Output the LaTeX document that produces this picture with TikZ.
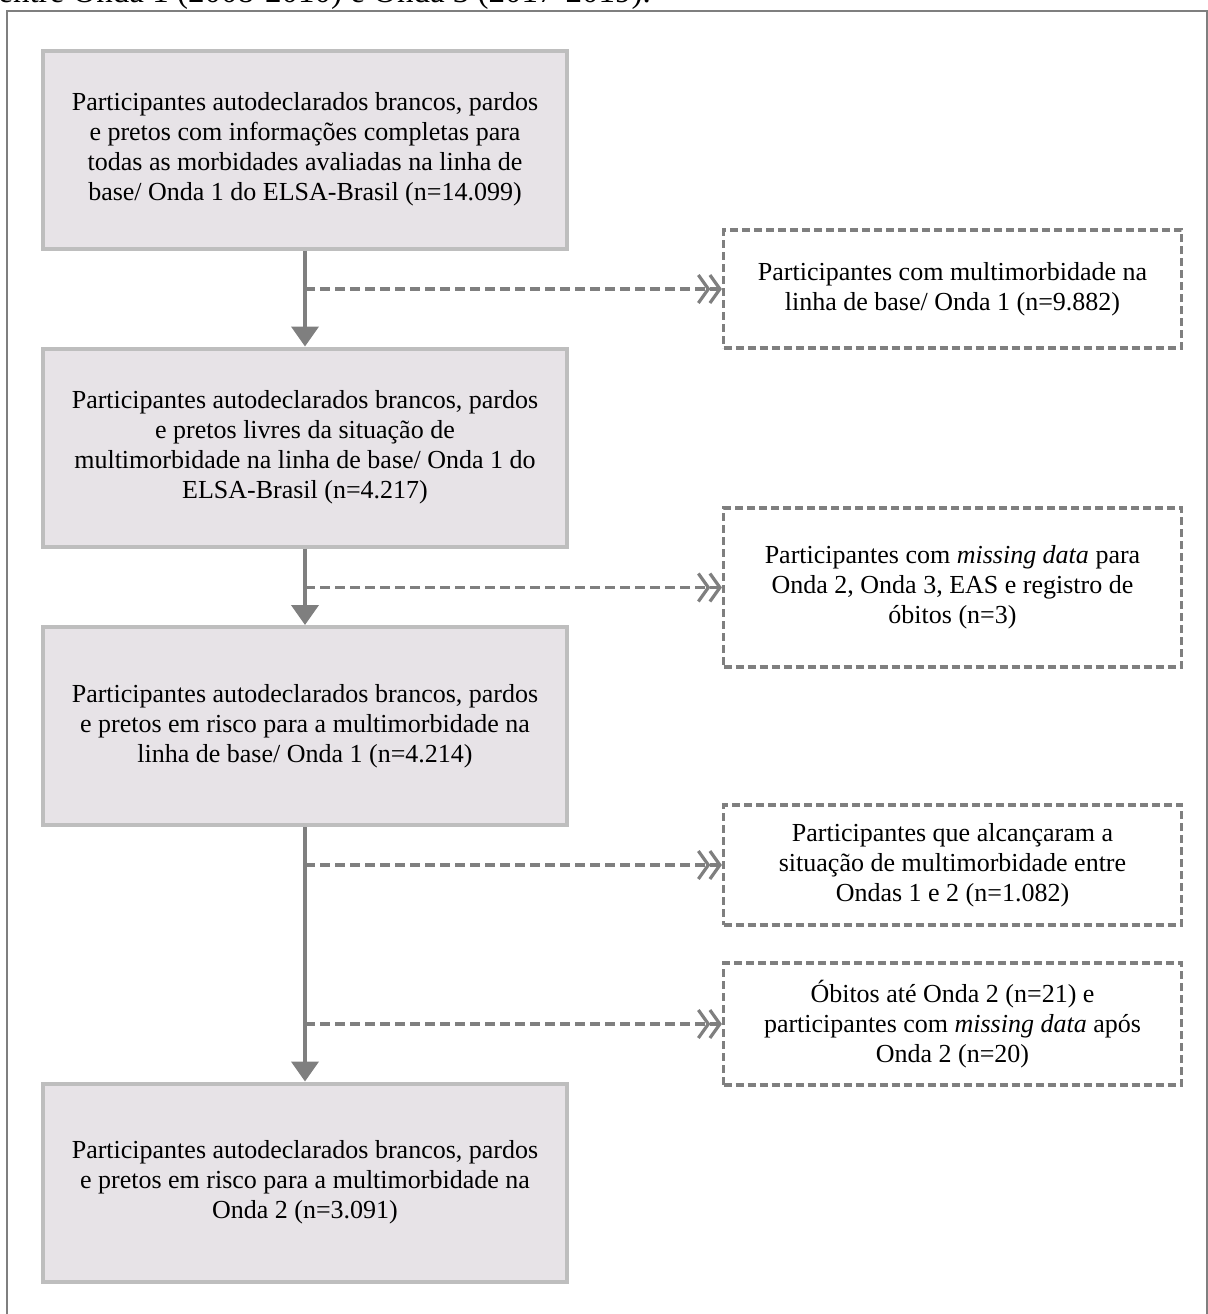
\documentclass[tikz,border=0pt]{standalone}
\usepackage{fontspec}
\setmainfont{Liberation Serif}
\usetikzlibrary{arrows.meta}
\definecolor{boxfill}{HTML}{E7E3E7}
\definecolor{boxline}{HTML}{BEBEBE}
\definecolor{arr}{HTML}{7F7F7F}
\begin{document}
\begin{tikzpicture}[x=0.5pt,y=-0.5pt,
  mainbox/.style={draw=boxline, line width=2pt, fill=boxfill,
    minimum width=262pt, minimum height=99pt, align=center, inner sep=0pt,
    font=\fontsize{13}{15}\selectfont},
  sidebox/.style={draw=arr, line width=1.6pt, dash pattern=on 4pt off 2pt,
    minimum width=229pt, align=center, inner sep=0pt,
    font=\fontsize{13}{15}\selectfont},
  flow/.style={draw=arr, line width=2pt, -{Triangle[length=10pt,width=13.5pt]}},
  side/.style={draw=arr, line width=1.6pt, dash pattern=on 5pt off 2.5pt,
    -{Straight Barb[length=5pt,width=14pt,line width=1.6pt,sep=-1pt] Straight Barb[length=5pt,width=14pt,line width=1.6pt]}}
]
\useasboundingbox (0,0) rectangle (1208,1314);
% caption line cut at the top
\node[anchor=base west, inner sep=0pt, font=\fontsize{16.5}{18}\selectfont] (cap) at (-2,2) {entre Onda 1 (2008-2010) e Onda 3 (2017-2019).};
% outer frame
\draw[draw=arr, line width=1pt] (7,1330) -- (7,11) -- (1207,11) -- (1207,1330);

\node[mainbox] (b1) at (305,149.5) {Participantes autodeclarados brancos, pardos\\e pretos com informações completas para\\todas as morbidades avaliadas na linha de\\base/ Onda 1 do ELSA-Brasil (n=14.099)};
\node[mainbox] (b2) at (305,447.5) {Participantes autodeclarados brancos, pardos\\e pretos livres da situação de\\multimorbidade na linha de base/ Onda 1 do\\ELSA-Brasil (n=4.217)};
\node[mainbox] (b3) at (305,726) {Participantes autodeclarados brancos, pardos\\e pretos em risco para a multimorbidade na\\linha de base/ Onda 1 (n=4.214)};
\node[mainbox] (b4) at (305,1182.5) {Participantes autodeclarados brancos, pardos\\e pretos em risco para a multimorbidade na\\Onda 2 (n=3.091)};

\node[sidebox, minimum height=59pt] (sA) at (952.5,289) {Participantes com multimorbidade na\\linha de base/ Onda 1 (n=9.882)};
\node[sidebox, minimum height=79.5pt] (sB) at (952.5,587.5) {Participantes com \textit{missing data} para\\Onda 2, Onda 3, EAS e registro de\\óbitos (n=3)};
\node[sidebox, minimum height=60pt] (sC) at (952.5,865) {Participantes que alcançaram a\\situação de multimorbidade entre\\Ondas 1 e 2 (n=1.082)};
\node[sidebox, minimum height=61pt] (sD) at (952.5,1024) {Óbitos até Onda 2 (n=21) e\\participantes com \textit{missing data} após\\Onda 2 (n=20)};

\draw[flow] (b1.south) -- (b2.north);
\draw[flow] (b2.south) -- (b3.north);
\draw[flow] (b3.south) -- (b4.north);

\draw[side] (sA.west -| b1.south) -- (sA.west);
\draw[side] (sB.west -| b2.south) -- (sB.west);
\draw[side] (sC.west -| b3.south) -- (sC.west);
\draw[side] (sD.west -| b3.south) -- (sD.west);
\end{tikzpicture}
\end{document}
